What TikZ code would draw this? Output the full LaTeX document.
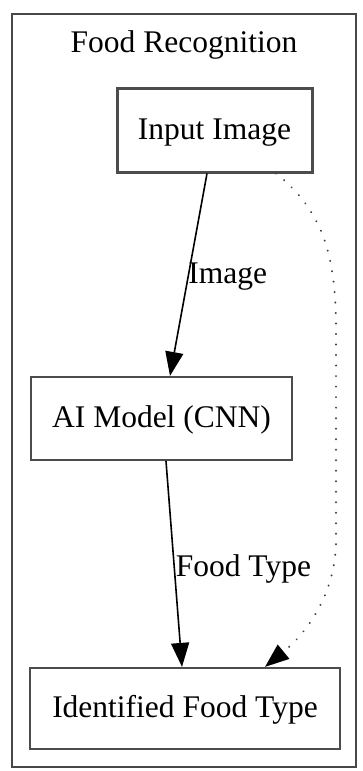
\documentclass[tikz,border=0pt]{standalone}
\usepackage{fontspec}
\setmainfont{Liberation Serif}
\usetikzlibrary{arrows.meta,calc}
\tikzset{
  lbl/.style={font=\fontsize{31.5}{36}\selectfont, inner sep=0pt},
  box/.style={lbl, draw=black!70, line width=2.2pt, rectangle,
    text height=23pt, text depth=5pt},
  flow/.style={line width=1.6pt, -{Triangle[length=24pt,width=18pt]}},
  weak/.style={line width=2.2pt, black!75, line cap=round,
    dash pattern=on 0.01pt off 10.5pt,
    -{Triangle[length=24pt,width=18pt,color=black]}}
}
\begin{document}
\begin{tikzpicture}[x=1pt,y=-1pt]
  \useasboundingbox (0,0) rectangle (362,771);
  % cluster frame
  \draw[black!72, line width=2pt] (12,14) rectangle (356,767);
  \node[lbl, anchor=base] (title) at (184,52) {Food Recognition};
  % process boxes
  \node[box, line width=3pt, minimum width=195pt, minimum height=84pt] (in) at (214.5,130) {Input Image};
  \node[box, minimum width=261pt, minimum height=83pt] (ai) at (161.5,418.5) {AI Model (CNN)};
  \node[box, minimum width=310pt, minimum height=81pt] (id) at (185,708.5) {Identified Food Type};
  % connectors
  \draw[flow] ([xshift=-7.5pt]in.south) -- ([xshift=8.5pt]ai.north)
    node[lbl, pos=0.47, anchor=west, xshift=-2pt, yshift=-8pt] (e1) {Image};
  \draw[flow] ([xshift=4.5pt]ai.south) -- ([xshift=-3pt]id.north)
    node[lbl, pos=0.5, anchor=west, xshift=1pt, yshift=-5pt] (e2) {Food Type};
  \draw[weak] ([xshift=61.5pt]in.south)
    .. controls (325,212) and (336,260) .. (336,330)
    -- (336,540)
    .. controls (336,590) and (310,630) .. ([xshift=80pt]id.north);
\end{tikzpicture}
\end{document}
